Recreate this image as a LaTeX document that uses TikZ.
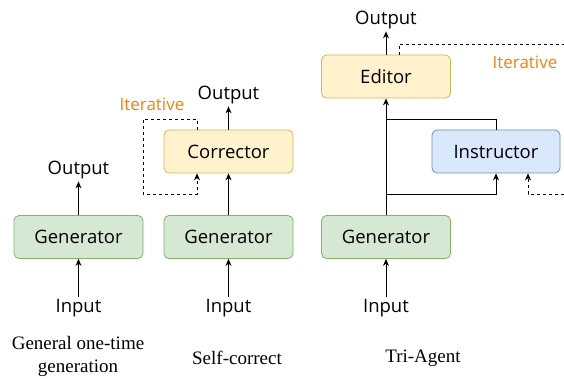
\documentclass[tikz,border=0pt]{standalone}
\usepackage{fontspec}
\setmainfont{Liberation Serif}
\newfontfamily\labelfont{Open Sans}
\usepackage{tikz}
\usetikzlibrary{positioning,arrows.meta}
\definecolor{genfill}{HTML}{D5E8D4}
\definecolor{gendraw}{HTML}{82B366}
\definecolor{edfill}{HTML}{FFF2CC}
\definecolor{eddraw}{HTML}{D6B656}
\definecolor{insfill}{HTML}{DAE8FC}
\definecolor{insdraw}{HTML}{6C8EBF}
\definecolor{iterorange}{HTML}{FF8000}

\begin{document}
\begin{tikzpicture}[x=1pt,y=1pt,node distance=71pt,on grid,
  >={Stealth[length=7pt,width=6pt]},line width=0.9pt,
  agent/.style={draw,rounded corners=5pt,line width=0.8pt,minimum width=129pt,
    minimum height=43pt,font=\labelfont\fontsize{18.5}{22}\selectfont},
  gen/.style={agent,fill=genfill,draw=gendraw},
  edit/.style={agent,fill=edfill,draw=eddraw},
  instr/.style={agent,fill=insfill,draw=insdraw,minimum width=128pt},
  io/.style={font=\labelfont\fontsize{18.5}{22}\selectfont,inner sep=2pt},
  iter/.style={font=\labelfont\fontsize{17}{20}\selectfont,text=iterorange},
  caption/.style={font=\fontsize{19}{23}\selectfont,align=center},
  loop/.style={dash pattern=on 3pt off 3pt,line width=0.8pt}]
  \useasboundingbox (0,0) rectangle (564,379);

  % general one-time generation
  \node[gen] (gen1) at (78.5,142) {Generator};
  \node[io] (in1) [below = of gen1] {Input};
  \node[io] (out1) [above = 67pt of gen1] {Output};

  % self-correct
  \node[gen] (gen2) at (228.5,142) {Generator};
  \node[io] (in2) [below = of gen2] {Input};
  \node[edit] (corr) [above = 85.5pt of gen2] {Corrector};
  \node[io] (out2) [above = 56.5pt of corr] {Output};
  \node[iter] (it2) at (152,275) {Iterative};

  % tri-agent
  \node[gen] (gen3) at (386,142) {Generator};
  \node[io] (in3) [below = of gen3] {Input};
  \node[edit] (editor) [above = 160.5pt of gen3] {Editor};
  \node[io] (out3) [above = 56.5pt of editor] {Output};
  \node[instr] (ins) at (496,227.5) {Instructor};
  \node[iter] (it3) at (525,317) {Iterative};

  \node[caption] (cap1) at (78,23) {General one-time\\generation};
  \node[caption] (cap2) at (237,21) {Self-correct};
  \node[caption] (cap3) at (423,21) {Tri-Agent};

  \coordinate (br1) at (386,185);
  \coordinate (br2) at (386,260);
  \coordinate (loopT) at (143,260);
  \coordinate (loopB) at (143,185);
  \coordinate (rimT) at (564,335);
  \coordinate (rimB) at (564,185);

  \path[->]
  (in1) edge (gen1)
  (gen1) edge (out1)
  (in2) edge (gen2)
  (gen2) edge (corr)
  (corr) edge (out2)
  (in3) edge (gen3)
  (gen3) edge (editor)
  (editor) edge (out3)
  ;
  \draw[->] (br1) -| (ins);
  \draw (ins) |- (br2);

  \draw[loop,->] ([xshift=-31.5pt]corr.north) |- (loopT) -- (loopB)
    -| ([xshift=-31.5pt]corr.south);
  \draw[loop] ([xshift=13pt]editor.north) |- (rimT);
  \draw[loop,->] (rimB) -| ([xshift=32pt]ins.south);
\end{tikzpicture}
\end{document}
